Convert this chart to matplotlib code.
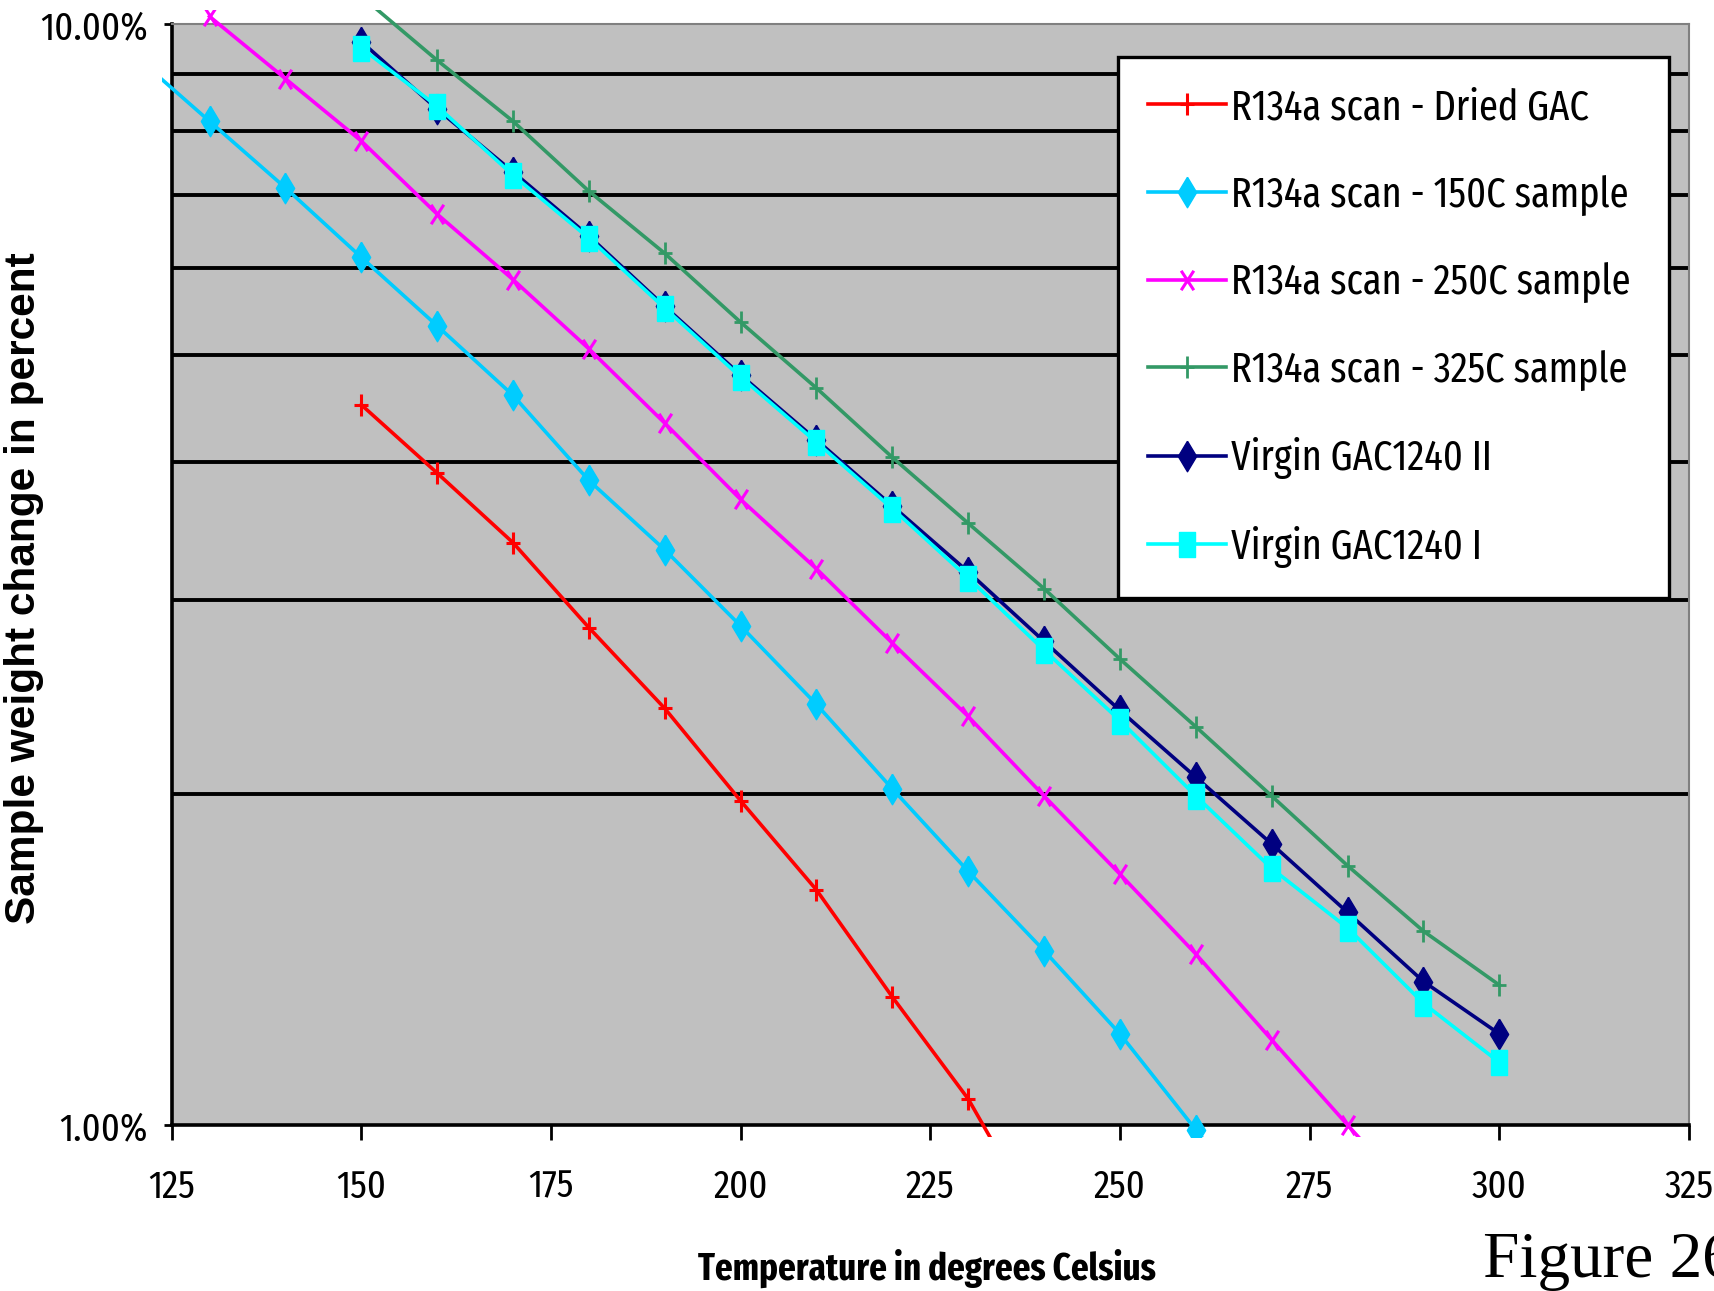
import numpy as np
import matplotlib
matplotlib.use('Agg')
import matplotlib.pyplot as plt
from matplotlib import font_manager as fm
from matplotlib.path import Path
from matplotlib.ticker import FixedLocator, FuncFormatter, NullFormatter
from matplotlib.transforms import Bbox, TransformedBbox

# data (weight change in percent)
dried_t = [150, 160, 170, 180, 190, 200, 210, 220, 230, 240]
dried = [4.51, 3.91, 3.38, 2.83, 2.39, 1.97, 1.635, 1.307, 1.056, 0.80]

s150_t = [120, 130, 140, 150, 160, 170, 180, 190, 200, 210, 220, 230, 240, 250, 260, 270]
s150 = [9.38, 8.16, 7.10, 6.14, 5.32, 4.60, 3.85, 3.33, 2.84, 2.41, 2.02, 1.70, 1.44, 1.21, 0.99, 0.81]

s250_t = [130, 140, 150, 160, 170, 180, 190, 200, 210, 220, 230, 240, 250, 260, 270, 280, 290]
s250 = [10.16, 8.92, 7.83, 6.72, 5.86, 5.07, 4.34, 3.70, 3.20, 2.74, 2.35, 1.99, 1.69, 1.43, 1.195, 1.00, 0.84]

s325_t = [150, 160, 170, 180, 190, 200, 210, 220, 230, 240, 250, 260, 270, 280, 290, 300]
s325 = [10.6, 9.27, 8.16, 7.05, 6.19, 5.36, 4.67, 4.04, 3.52, 3.07, 2.65, 2.30, 1.99, 1.72, 1.50, 1.34]

virgin_t = [150, 160, 170, 180, 190, 200, 210, 220, 230, 240, 250, 260, 270, 280, 290, 300]
virgin2 = [9.64, 8.37, 7.34, 6.42, 5.54, 4.80, 4.19, 3.65, 3.18, 2.75, 2.38, 2.07, 1.80, 1.56, 1.35, 1.21]
virgin1 = [9.51, 8.42, 7.29, 6.39, 5.52, 4.78, 4.17, 3.63, 3.14, 2.70, 2.33, 1.99, 1.71, 1.51, 1.29, 1.14]

labels = ['R134a scan - Dried GAC', 'R134a scan - 150C sample', 'R134a scan - 250C sample',
          'R134a scan - 325C sample', 'Virgin GAC1240 II', 'Virgin GAC1240 I']
colors = ['#FF0000', '#00CCFF', '#FF00FF', '#339966', '#000080', '#00FFFF']

xticks = [125, 150, 175, 200, 225, 250, 275, 300, 325]


def find_narrow(bold):
    # look for an installed narrow / condensed sans face, the narrower the better
    stretch_map = {'ultra-condensed': 100, 'extra-condensed': 200, 'condensed': 300,
                   'semi-condensed': 400, 'normal': 500}
    best, best_score = None, None
    for f in fm.fontManager.ttflist:
        low = f.name.lower()
        fn = f.fname.lower().replace('-', '').replace('_', '').replace(' ', '')
        if 'mono' in low or 'cjk' in low or ('serif' in low and 'sans' not in low):
            continue
        if 'display' in low or 'italic' in fn or 'oblique' in fn:
            continue
        st = f.stretch
        stv = stretch_map.get(st, 500) if isinstance(st, str) else st
        if 'narrow' in low or 'condensed' in low:
            stv = min(stv, 300)
        if 'extracondensed' in fn:
            stv = 200
        elif 'semicondensed' in fn:
            stv = 400
        if stv >= 500 or f.style != 'normal':
            continue
        w = f.weight if isinstance(f.weight, (int, float)) else fm.weight_dict.get(f.weight, 400)
        score = abs(w - (700 if bold else 400)) + abs(stv - 200) * 0.5
        if 'liberation' in low or 'arial' in low:
            score -= 60
        if best_score is None or score < best_score:
            best, best_score = f.fname, score
    if best is None:
        return fm.FontProperties(family='Liberation Sans', weight='bold' if bold else 'normal')
    return fm.FontProperties(fname=best)


narrow = find_narrow(False)
narrow_bold = find_narrow(True)

# tall markers, the original chart is squeezed sideways
plus = Path([(-0.62, 0), (0.62, 0), (0, -1), (0, 1)],
            [Path.MOVETO, Path.LINETO, Path.MOVETO, Path.LINETO])
cross = Path([(-0.65, -1), (0.65, 1), (-0.65, 1), (0.65, -1)],
             [Path.MOVETO, Path.LINETO, Path.MOVETO, Path.LINETO])
diamond = Path([(0, 1), (0.6, 0), (0, -1), (-0.6, 0), (0, 1)])
square = Path([(-0.65, -1), (0.65, -1), (0.65, 1), (-0.65, 1), (-0.65, -1)])

fig = plt.figure(figsize=(17.14, 12.91), dpi=100)
renderer = fig.canvas.get_renderer()


def fit_size(s, prop, width_px):
    p = prop.copy()
    p.set_size(100)
    t = fig.text(0, 0, s, fontproperties=p)
    w = t.get_window_extent(renderer).width
    t.remove()
    return 100 * width_px / w


def sized(prop, size):
    p = prop.copy()
    p.set_size(size)
    return p


tick_size = min(fit_size('125', narrow, 51), fit_size('1.00%', narrow, 88), 33)
tick_prop = sized(narrow, tick_size)
leg_prop = sized(narrow, min(fit_size('R134a scan - 150C sample', narrow, 398), 38))
xlab_prop = sized(narrow_bold, min(fit_size('Temperature in degrees Celsius', narrow_bold, 458), 32))
ylab_prop = fm.FontProperties(family='Liberation Sans', weight='bold')
ylab_prop.set_size(fit_size('Sample weight change in percent', ylab_prop, 672))

ax = fig.add_axes([0.1001, 0.12858, 0.8853, 0.85283])
ax.set_facecolor('#C0C0C0')

series = [
    (dried_t, dried, plus, 15.5, 2.2),
    (s150_t, s150, diamond, 22, 1.0),
    (s250_t, s250, cross, 14, 2.2),
    (s325_t, s325, plus, 15.5, 2.0),
    (virgin_t, virgin2, diamond, 22, 1.0),
    (virgin_t, virgin1, square, 18, 1.0),
]

clip = TransformedBbox(Bbox([[-0.006, -0.011], [1.0, 1.013]]), ax.transAxes)
for (t, v, mk, ms, mew), lab, c in zip(series, labels, colors):
    ln, = ax.plot(t, v, color=c, lw=2.6, marker=mk, markersize=ms,
                  markeredgewidth=mew, markerfacecolor=c, markeredgecolor=c,
                  label=lab, zorder=3)
    ln.set_clip_box(clip)

ax.set_yscale('log')
ax.set_xlim(125, 325)
ax.set_ylim(1, 10)

ax.yaxis.set_major_locator(FixedLocator([1, 10]))
ax.yaxis.set_major_formatter(FuncFormatter(lambda v, p: f'{v:.2f}%'))
ax.yaxis.set_minor_locator(FixedLocator([2, 3, 4, 5, 6, 7, 8, 9]))
ax.yaxis.set_minor_formatter(NullFormatter())
ax.grid(True, which='minor', axis='y', color='black', lw=2.8, zorder=1)
ax.grid(False, which='major')
ax.set_axisbelow(True)

ax.set_xticks(xticks)
ax.set_xticklabels([str(x) for x in xticks])

ax.tick_params(axis='x', which='major', direction='out', length=11, width=2,
               pad=20, color='black')
ax.tick_params(axis='y', which='major', direction='out', length=6, width=2,
               pad=11, color='black')
ax.tick_params(axis='y', which='minor', length=0)
for lab in ax.get_xticklabels() + ax.get_yticklabels():
    lab.set_fontproperties(tick_prop)

for s in ['left', 'bottom']:
    ax.spines[s].set_color('black')
    ax.spines[s].set_linewidth(2.6)
for s in ['top', 'right']:
    ax.spines[s].set_color('#808080')
    ax.spines[s].set_linewidth(1.5)

fs_px = leg_prop.get_size_in_points() * fig.dpi / 72
hl = 78 / fs_px


def make_legend(spacing):
    lg = ax.legend(loc='upper left', bbox_to_anchor=(0.6237, 0.4787, 0.3631, 0.4913),
                   mode='expand', prop=leg_prop, borderaxespad=0,
                   handlelength=hl, handletextpad=0.12, labelspacing=spacing,
                   borderpad=0.72, fancybox=False, framealpha=1, edgecolor='black')
    lg.get_frame().set_linewidth(2.4)
    lg.set_zorder(5)
    return lg


# match the legend box height (541 px) by tuning row spacing
spacing = 0.8
leg = make_legend(spacing)
fig.canvas.draw()
h = leg.get_window_extent(renderer).height
spacing = max(0.2, spacing + (541 - h) / (5 * fs_px))
leg = make_legend(spacing)

fig.text(927 / 1714, 1 - 1268 / 1291, 'Temperature in degrees Celsius',
         ha='center', va='center', fontproperties=xlab_prop)
fig.text(24 / 1714, 1 - 588 / 1291, 'Sample weight change in percent',
         ha='center', va='center', rotation=90, fontproperties=ylab_prop)
fig.text(1483 / 1714, 1 - 1277 / 1291, 'Figure 26', ha='left', va='baseline',
         fontsize=47, family='Liberation Serif')

fig.savefig('out.png', dpi=100)
